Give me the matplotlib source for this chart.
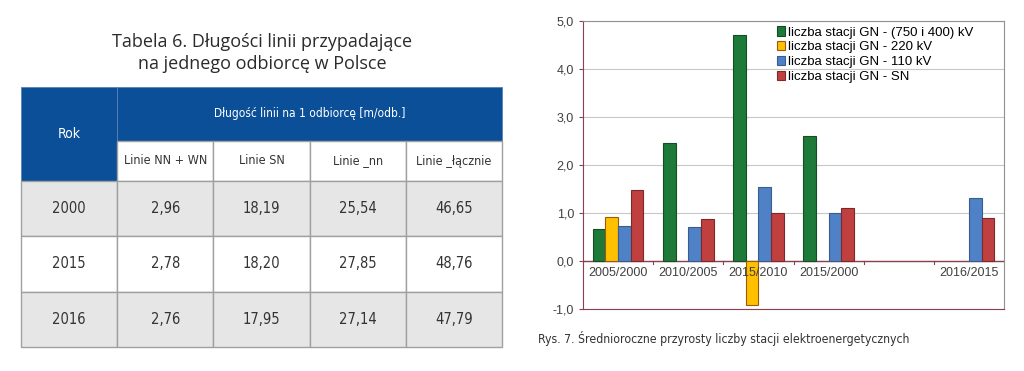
import numpy as np
import matplotlib
matplotlib.use("Agg")
import matplotlib.pyplot as plt
from matplotlib.patches import Rectangle

# Table data (Tabela 6)
table_years = ["2000", "2015", "2016"]
table_cols = ["Linie NN + WN", "Linie SN", "Linie _nn", "Linie _łącznie"]
table_values = [
    ["2,96", "18,19", "25,54", "46,65"],
    ["2,78", "18,20", "27,85", "48,76"],
    ["2,76", "17,95", "27,14", "47,79"],
]

# Chart data (Rys. 7)
periods = ["2005/2000", "2010/2005", "2015/2010", "2015/2000", "", "2016/2015"]
series_names = [
    "liczba stacji GN - (750 i 400) kV",
    "liczba stacji GN - 220 kV",
    "liczba stacji GN - 110 kV",
    "liczba stacji GN - SN",
]
gn_750_400 = [0.66, 2.45, 4.70, 2.60, 0.0, 0.0]
gn_220 = [0.92, 0.0, -0.92, 0.0, 0.0, 0.0]
gn_110 = [0.73, 0.71, 1.55, 0.99, 0.0, 1.31]
gn_sn = [1.47, 0.87, 0.99, 1.10, 0.0, 0.90]

colors = ["#1d7a38", "#ffc000", "#4f81c7", "#c0403f"]
edges = ["#174d25", "#9a5a10", "#3b5c8f", "#7a2a2a"]

fig = plt.figure(figsize=(10.24, 3.71), dpi=100)

# ---- table ----
W, H = 1024, 371
tax = fig.add_axes([0, 0, 0.5, 1])
tax.set_xlim(0, W / 2)
tax.set_ylim(H, 0)
tax.axis("off")

x0, col_w = 21, 96.2
y_head, h_head, h_sub, h_row = 87, 54, 40, 55.3
blue = "#0b4f98"
grid = "#a0a0a0"
cell_font = dict(family="DejaVu Sans", fontstretch="condensed")

tax.text(262, 42, "Tabela 6. Długości linii przypadające", ha="center", va="center",
         fontsize=13, family="Open Sans", color="#2b2b2b")
tax.text(262, 64, "na jednego odbiorcę w Polsce", ha="center", va="center",
         fontsize=13, family="Open Sans", color="#2b2b2b")

# header
tax.add_patch(Rectangle((x0, y_head), col_w, h_head + h_sub, facecolor=blue,
                        edgecolor="#5a7fb5", lw=0.6))
tax.add_patch(Rectangle((x0 + col_w, y_head), col_w * 4, h_head, facecolor=blue,
                        edgecolor="#5a7fb5", lw=0.6))
tax.text(x0 + col_w / 2, y_head + (h_head + h_sub) / 2, "Rok", ha="center", va="center",
         color="white", fontsize=10, **cell_font)
tax.text(x0 + col_w * 3, y_head + h_head / 2, "Długość linii na 1 odbiorcę [m/odb.]",
         ha="center", va="center", color="white", fontsize=8.6, **cell_font)
for j, name in enumerate(table_cols):
    cx = x0 + col_w * (j + 1)
    tax.add_patch(Rectangle((cx, y_head + h_head), col_w, h_sub, facecolor="white",
                            edgecolor=grid, lw=1))
    tax.text(cx + col_w / 2, y_head + h_head + h_sub / 2, name, ha="center", va="center",
             fontsize=9, color="#333333", **cell_font)

# data rows
y_rows = y_head + h_head + h_sub
for i, year in enumerate(table_years):
    ry = y_rows + i * h_row
    face = "#e6e6e6" if i % 2 == 0 else "white"
    row = [year] + table_values[i]
    for j, val in enumerate(row):
        cx = x0 + col_w * j
        tax.add_patch(Rectangle((cx, ry), col_w, h_row, facecolor=face, edgecolor=grid, lw=1))
        tax.text(cx + col_w / 2, ry + h_row / 2, val, ha="center", va="center",
                 fontsize=10.5, color="#333333", **cell_font)

# ---- bar chart ----
ax = fig.add_axes([583 / W, 1 - 309 / H, (1004 - 583) / W, (309 - 21) / H])
x = np.arange(len(periods))
bw = 0.18
data = [gn_750_400, gn_220, gn_110, gn_sn]
for k, vals in enumerate(data):
    xs, ys = [], []
    for xi, v in zip(x, vals):
        if v != 0:
            xs.append(xi + (k - 1.5) * bw)
            ys.append(v)
    ax.bar(xs, ys, width=bw, color=colors[k], edgecolor=edges[k], lw=0.8,
           label=series_names[k], zorder=3)

ax.set_xlim(-0.5, len(periods) - 0.5)
ax.set_ylim(-1, 5)
ax.set_yticks(np.arange(-1, 5.01, 1))
ax.set_yticklabels([f"{v:.1f}".replace(".", ",") for v in np.arange(-1, 5.01, 1)])
ax.yaxis.grid(True, color="#c8c8c8", lw=0.8, zorder=0)
ax.set_axisbelow(True)

ax.axhline(0, color="#8b4050", lw=1, zorder=2)
ax.set_xticks([])
for xi in x[:-1]:
    ax.plot([xi + 0.5, xi + 0.5], [0, -0.07], color="#8b4050", lw=0.8, clip_on=False, zorder=2)
for xi, lab in zip(x, periods):
    ax.text(xi, -0.12, lab, ha="center", va="top", fontsize=9, color="#404040",
            family="Liberation Sans", zorder=4)

for side in ["left", "bottom"]:
    ax.spines[side].set_color("#8b4050")
for side in ["top", "right"]:
    ax.spines[side].set_color("#909090")
ax.tick_params(axis="y", length=3, color="#8b4050", labelsize=9, labelcolor="#404040")
for t in ax.get_yticklabels():
    t.set_family("Liberation Sans")

ax.legend(loc="upper right", frameon=False, handlelength=0.6,
          handleheight=0.7, handletextpad=0.25, labelspacing=0.2,
          borderaxespad=0.0, bbox_to_anchor=(0.94, 1.0),
          prop={"family": "Liberation Sans", "size": 9.5})

fig.text(538 / W, 1 - 339 / H, "Rys. 7. Średnioroczne przyrosty liczby stacji elektroenergetycznych",
         ha="left", va="center", fontsize=8.8, color="#333333", **cell_font)

fig.savefig("out.png", dpi=100)
